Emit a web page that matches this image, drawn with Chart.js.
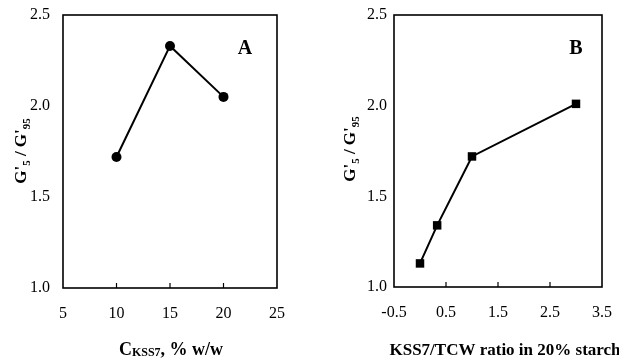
<!DOCTYPE html>
<html><head><meta charset="utf-8">
<script src="https://cdn.jsdelivr.net/npm/chart.js@4"></script>
<style>
html,body{margin:0;padding:0;background:#fff;width:619px;height:359px;overflow:hidden}
canvas{position:absolute;top:0}
#cA{left:0}
#cB{left:309px}
</style></head>
<body>
<canvas id="cA" width="309" height="359"></canvas>
<canvas id="cB" width="310" height="359"></canvas>
<script>
// Panel A data
const concKSS7 = [10, 15, 20];
const ratioA = [1.72, 2.33, 2.05];
// Panel B data
const kssTcwRatio = [0, 0.33, 1.0, 3.0];
const ratioB = [1.13, 1.34, 1.72, 2.01];
// Tick labels
const yTickVals = [1.0, 1.5, 2.0, 2.5];
const xTickValsA = [5, 10, 15, 20, 25];
const xTickValsB = [-0.5, 0.5, 1.5, 2.5, 3.5];

const SERIF = '"Liberation Serif", "DejaVu Serif", serif';

const decor = {
  id: 'decor',
  afterDraw(chart, args, o) {
    const ctx = chart.ctx, a = chart.chartArea;
    ctx.save();
    ctx.strokeStyle = '#000';
    ctx.lineWidth = 1.6;
    ctx.strokeRect(a.left, a.top, a.right - a.left, a.bottom - a.top);
    // inner tick marks on bottom axis
    const xs = chart.scales.x;
    ctx.lineWidth = 1.2;
    xs.ticks.forEach((t, i) => {
      if (i === 0 || i === xs.ticks.length - 1) return;
      const px = xs.getPixelForValue(t.value);
      ctx.beginPath(); ctx.moveTo(px, a.bottom); ctx.lineTo(px, a.bottom - 5); ctx.stroke();
    });
    ctx.fillStyle = '#000';
    // panel letter
    ctx.font = 'bold 20px ' + SERIF;
    ctx.textAlign = 'center'; ctx.textBaseline = 'middle';
    ctx.fillText(o.letter, o.letterX, o.letterY);
    // x title with subscript parts
    ctx.textBaseline = 'alphabetic';
    ctx.textAlign = 'left';
    const parts = o.xParts;
    let w = 0;
    parts.forEach(p => { ctx.font = 'bold ' + p.size + 'px ' + SERIF; w += ctx.measureText(p.t).width; });
    let x = o.xTitleX - w / 2;
    parts.forEach(p => {
      ctx.font = 'bold ' + p.size + 'px ' + SERIF;
      ctx.fillText(p.t, x, o.xTitleY + (p.dy || 0));
      x += ctx.measureText(p.t).width;
    });
    // y title rotated
    const yp = [
      {t: "G'", size: 17}, {t: '5', size: 11, dy: 4}, {t: ' / ', size: 17},
      {t: "G'", size: 17}, {t: '95', size: 11, dy: 4}
    ];
    ctx.translate(o.yTitleX, o.yTitleY);
    ctx.rotate(-Math.PI / 2);
    w = 0;
    yp.forEach(p => { ctx.font = 'bold ' + p.size + 'px ' + SERIF; w += ctx.measureText(p.t).width; });
    x = -w / 2;
    yp.forEach(p => {
      ctx.font = 'bold ' + p.size + 'px ' + SERIF;
      ctx.fillText(p.t, x, p.dy || 0);
      x += ctx.measureText(p.t).width;
    });
    ctx.restore();
  }
};

function makeChart(id, xs, ys, xTicks, pointStyle, radius, pad, yW, xH, yGap, deco) {
  return new Chart(document.getElementById(id), {
    type: 'scatter',
    data: {
      datasets: [{
        data: xs.map((v, i) => ({x: v, y: ys[i]})),
        showLine: true,
        borderColor: '#000',
        backgroundColor: '#000',
        borderWidth: 2,
        pointStyle: pointStyle,
        pointRadius: radius,
        pointHoverRadius: radius,
        pointBorderWidth: 0
      }]
    },
    options: {
      responsive: false,
      animation: false,
      events: [],
      layout: {padding: pad},
      plugins: {legend: {display: false}, tooltip: {enabled: false}, decor: deco},
      scales: {
        x: {
          type: 'linear',
          min: xTicks[0], max: xTicks[xTicks.length - 1],
          afterBuildTicks: s => { s.ticks = xTicks.map(v => ({value: v})); },
          afterFit: s => { s.height = xH; },
          grid: {display: false, drawTicks: true, tickLength: 16},
          border: {display: false},
          ticks: {
            color: '#000', padding: 0, maxRotation: 0, autoSkip: false,
            font: {family: SERIF, size: 16},
            callback: v => String(v)
          }
        },
        y: {
          type: 'linear',
          min: yTickVals[0], max: yTickVals[yTickVals.length - 1],
          afterBuildTicks: s => { s.ticks = yTickVals.map(v => ({value: v})); },
          afterFit: s => { s.width = yW; },
          grid: {display: false, drawTicks: true, tickLength: yGap},
          border: {display: false},
          ticks: {
            color: '#000', padding: 0,
            font: {family: SERIF, size: 16},
            callback: v => Number(v).toFixed(1)
          }
        }
      }
    },
    plugins: [decor]
  });
}

makeChart('cA', concKSS7, ratioA, xTickValsA, 'circle', 5,
  {top: 15, right: 32, left: 0, bottom: 0}, 63, 71, 13,
  {letter: 'A', letterX: 245, letterY: 49,
   xParts: [{t: 'C', size: 18}, {t: 'KSS7', size: 12, dy: 1}, {t: ', % w/w', size: 18}],
   xTitleX: 171, xTitleY: 355, yTitleX: 26, yTitleY: 151});

makeChart('cB', kssTcwRatio, ratioB, xTickValsB, 'rect', 6,
  {top: 15, right: 17, left: 0, bottom: 0}, 85, 72, 7,
  {letter: 'B', letterX: 267, letterY: 49,
   xParts: [{t: 'KSS7/TCW ratio in 20% starch', size: 17}],
   xTitleX: 196, xTitleY: 355, yTitleX: 46, yTitleY: 149});
</script>
</body></html>
